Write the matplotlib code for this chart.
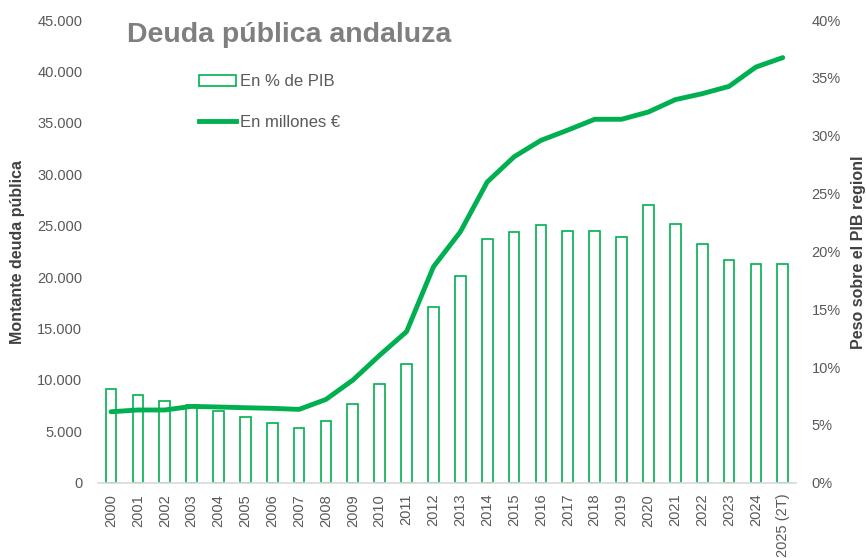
import matplotlib
matplotlib.use("Agg")
import matplotlib.pyplot as plt
from matplotlib.ticker import FuncFormatter
from matplotlib.patches import Patch
from matplotlib.lines import Line2D

years = ["2000", "2001", "2002", "2003", "2004", "2005", "2006", "2007", "2008",
         "2009", "2010", "2011", "2012", "2013", "2014", "2015", "2016", "2017",
         "2018", "2019", "2020", "2021", "2022", "2023", "2024", "2025 (2T)"]
pct_pib = [8.07, 7.6, 7.08, 6.7, 6.22, 5.68, 5.18, 4.75, 5.36, 6.83, 8.53, 10.23,
           15.2, 17.88, 21.1, 21.66, 22.29, 21.8, 21.8, 21.25, 23.99, 22.37,
           20.6, 19.27, 18.95, 18.95]
millones = [6900, 7070, 7070, 7420, 7360, 7290, 7230, 7130, 8100, 9980, 12400,
            14700, 21000, 24400, 29250, 31700, 33300, 34300, 35350, 35350, 36060,
            37260, 37840, 38550, 40430, 41350]

green = "#00B050"
tick_gray = "#595959"
label_gray = "#404040"
font = ["Liberation Sans", "DejaVu Sans"]
plt.rcParams["font.family"] = font

fig = plt.figure(figsize=(8.66, 5.58), dpi=100)
ax = fig.add_axes([0.1127, 0.135, 0.8067, 0.829])
ax2 = ax.twinx()

x = list(range(len(years)))
ax2.bar(x, pct_pib, width=0.4, facecolor="white", edgecolor=green, linewidth=1.2, zorder=1)
ax.plot(x, millones, color=green, linewidth=3.5, solid_capstyle="round", zorder=3)

# line axis in front of bars
ax.set_zorder(ax2.get_zorder() + 1)
ax.patch.set_visible(False)

ax.set_xlim(-0.5, len(years) - 0.5)
ax.set_ylim(0, 45000)
ax2.set_ylim(0, 40)
ax.set_yticks(range(0, 45001, 5000))
ax2.set_yticks(range(0, 41, 5))
ax.yaxis.set_major_formatter(FuncFormatter(lambda v, p: f"{int(v):,}".replace(",", ".")))
ax2.yaxis.set_major_formatter(FuncFormatter(lambda v, p: f"{int(v)}%"))
ax.set_xticks(x)
ax.set_xticklabels(years, rotation=90)

for a in (ax, ax2):
    for s in a.spines.values():
        s.set_visible(False)
    a.tick_params(length=0, colors=tick_gray, labelsize=10.5)
ax.spines["bottom"].set_visible(True)
ax.spines["bottom"].set_color("#D9D9D9")
ax.spines["bottom"].set_linewidth(1.2)
ax.tick_params(axis="y", pad=11)
ax2.tick_params(axis="y", pad=11)
ax.tick_params(axis="x", pad=8)

fig.text(0.0205, 0.548, "Montante deuda pública", rotation=90, ha="center", va="center",
         fontsize=11.5, fontweight="bold", color=label_gray)
fig.text(0.991, 0.548, "Peso sobre el PIB regionl", rotation=90, ha="center", va="center",
         fontsize=11.5, fontweight="bold", color=label_gray)

fig.text(0.147, 0.937, "Deuda pública andaluza", ha="left", va="center",
         fontsize=20.5, fontweight="bold", color="#7F7F7F")

handles = [Patch(facecolor="white", edgecolor=green, linewidth=1.2),
           Line2D([0], [0], color=green, linewidth=3.5)]
leg = fig.legend(handles, ["En % de PIB", "En millones €"], loc="upper left",
                 bbox_to_anchor=(0.230, 0.867), frameon=False, fontsize=12,
                 handlelength=2.2, handletextpad=0.25, labelspacing=1.56,
                 labelcolor=tick_gray, borderaxespad=0, borderpad=0)

fig.savefig("out.png", dpi=100)
